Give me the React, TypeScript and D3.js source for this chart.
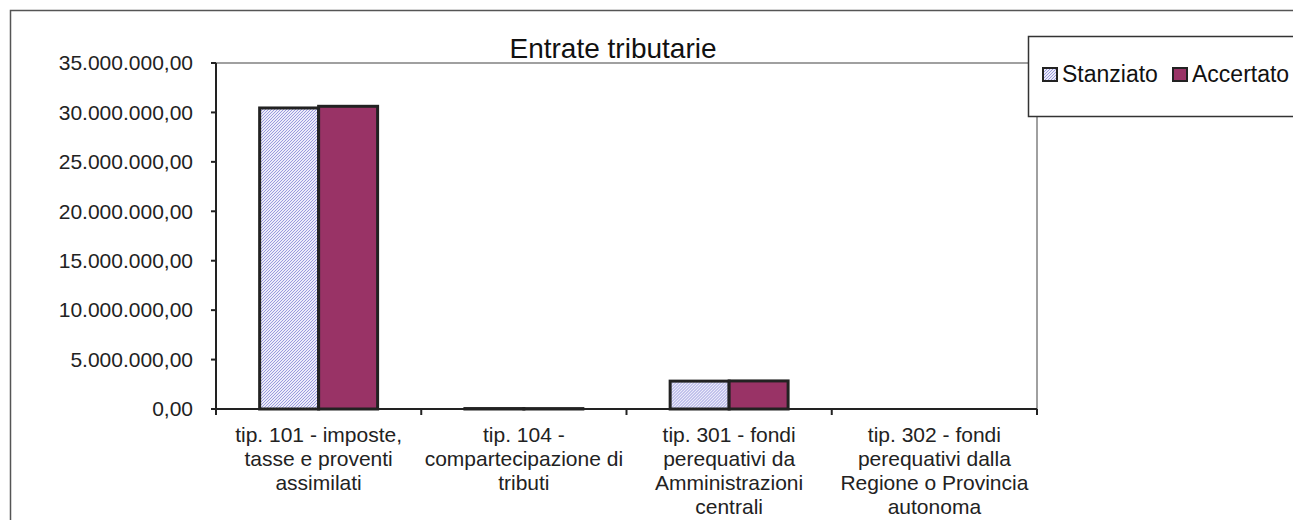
import React from "react";
import * as d3 from "d3";

const categories = [
  ["tip. 101 - imposte,", "tasse e proventi", "assimilati"],
  ["tip. 104 -", "compartecipazione di", "tributi"],
  ["tip. 301 - fondi", "perequativi da", "Amministrazioni", "centrali"],
  ["tip. 302 - fondi", "perequativi dalla", "Regione o Provincia", "autonoma"]
];
const seriesNames = ["Stanziato", "Accertato"];
const stanziato = [30450000, 45000, 2820000, 0];
const accertato = [30620000, 40000, 2840000, 0];
const yTicks = [0, 5000000, 10000000, 15000000, 20000000, 25000000, 30000000, 35000000];

const FONT = "'Liberation Sans', Arial, sans-serif";
const itLocale = d3.formatLocale({ decimal: ",", thousands: ".", grouping: [3], currency: ["€", ""] });
const fmt = itLocale.format(",.2f");

export default function App() {
  const width = 1293;
  const height = 520;
  const plot = { left: 216, right: 1037, top: 63, bottom: 409 };

  const keys = categories.map((c, i) => String(i));
  const x0 = d3.scaleBand().domain(keys).range([plot.left, plot.right]).paddingInner(0).paddingOuter(0);
  const x1 = d3.scaleBand().domain(seriesNames).range([0, x0.bandwidth()]).paddingInner(0).paddingOuter(0.74);
  const y = d3.scaleLinear().domain([0, 35000000]).range([plot.bottom, plot.top]);
  const fills: Record<string, string> = { Stanziato: "url(#hatch)", Accertato: "#993366" };
  const values: Record<string, number[]> = { Stanziato: stanziato, Accertato: accertato };

  return (
    <svg width={width} height={height} style={{ position: "absolute", left: 0, top: 0 }} fontFamily={FONT}>
      <defs>
        <pattern id="hatch" width="3" height="3" patternUnits="userSpaceOnUse">
          <rect width="3" height="3" fill="#ebebfa" />
          <path d="M0,3 L3,0" stroke="#9a9ade" strokeWidth="1" />
        </pattern>
      </defs>
      <rect x={0} y={0} width={width} height={height} fill="#fff" />
      <rect x={10.5} y={10.5} width={1300} height={540} fill="none" stroke="#555" strokeWidth={1.5} />

      <text x={613} y={58} textAnchor="middle" fontSize={28} fill="#111">Entrate tributarie</text>

      {/* plot frame */}
      <line x1={plot.left} x2={plot.right} y1={plot.top} y2={plot.top} stroke="#a0a0a0" strokeWidth={2} />
      <line x1={plot.right} x2={plot.right} y1={plot.top} y2={plot.bottom} stroke="#a0a0a0" strokeWidth={2} />

      {/* bars */}
      {keys.map((k, i) => (
        <g key={k} transform={`translate(${x0(k)},0)`}>
          {seriesNames.map(s => {
            const v = values[s][i];
            if (v <= 0) return null;
            return (
              <rect key={s} x={x1(s)} y={y(v)} width={x1.bandwidth()} height={plot.bottom - y(v)}
                fill={fills[s]} stroke="#222" strokeWidth={3} />
            );
          })}
        </g>
      ))}

      {/* y axis */}
      <line x1={plot.left} x2={plot.left} y1={plot.top} y2={plot.bottom} stroke="#222" strokeWidth={2} />
      {yTicks.map(t => (
        <g key={t}>
          <line x1={plot.left - 5} x2={plot.left} y1={y(t)} y2={y(t)} stroke="#222" strokeWidth={2} />
          <text x={193} y={y(t)} dy="0.35em" textAnchor="end" fontSize={21} fill="#222">{fmt(t)}</text>
        </g>
      ))}

      {/* x axis */}
      <line x1={plot.left} x2={plot.right} y1={plot.bottom} y2={plot.bottom} stroke="#222" strokeWidth={2} />
      {[...keys.map(k => x0(k) as number), plot.right].map((t, i) => (
        <line key={i} x1={t} x2={t} y1={plot.bottom} y2={plot.bottom + 6} stroke="#222" strokeWidth={2} />
      ))}
      {categories.map((lines, i) => (
        <text key={i} textAnchor="middle" fontSize={21} fill="#222">
          {lines.map((l, j) => (
            <tspan key={j} x={(x0(String(i)) as number) + x0.bandwidth() / 2} y={442 + j * 24}>{l}</tspan>
          ))}
        </text>
      ))}

      {/* legend */}
      <rect x={1028.5} y={36.5} width={300} height={80} fill="#fff" stroke="#333" strokeWidth={1.5} />
      {seriesNames.map((s, i) => {
        const lx = i === 0 ? 1043 : 1173;
        return (
          <g key={s}>
            <rect x={lx} y={68} width={14} height={13} fill={fills[s]} stroke="#222" strokeWidth={2} />
            <text x={lx + 19} y={82} fontSize={23} fill="#111">{s}</text>
          </g>
        );
      })}
    </svg>
  );
}
